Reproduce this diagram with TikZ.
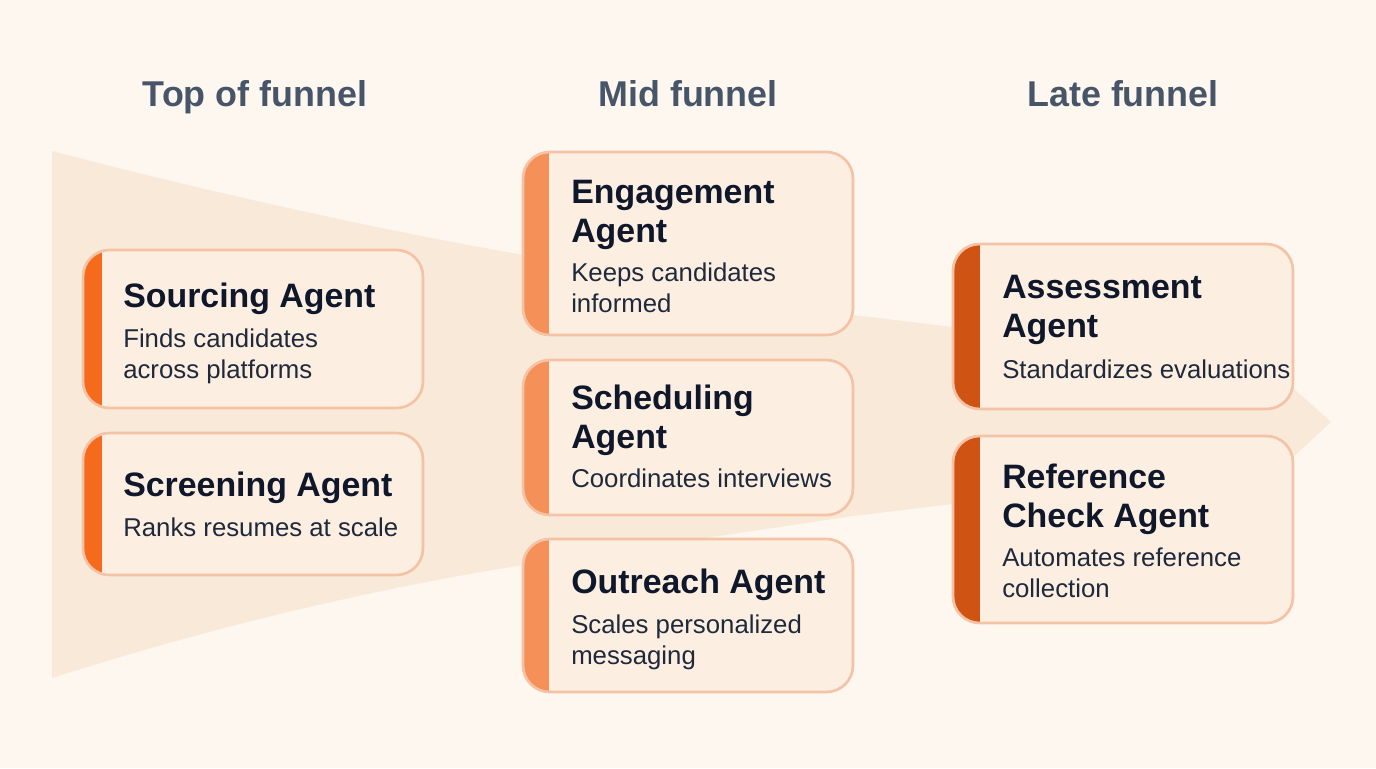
\documentclass[tikz,border=0pt]{standalone}
\usepackage{fontspec}
\setmainfont{Liberation Sans}
\definecolor{bg}{HTML}{FDF7EF}
\definecolor{fun}{HTML}{F8E9D9}
\definecolor{card}{HTML}{FDEEE2}
\definecolor{edge}{HTML}{F4C3A6}
\definecolor{ink}{HTML}{0F172A}
\definecolor{sub}{HTML}{1E293B}
\definecolor{headc}{HTML}{475569}
\definecolor{ba}{HTML}{F56B1B}
\definecolor{bb}{HTML}{F49058}
\definecolor{bc}{HTML}{CF5413}
\newcommand{\px}{0.0264583cm}
\tikzset{x=\px,y=-\px,
 headtxt/.style={font=\fontsize{27}{27}\selectfont\bfseries,text=headc,anchor=base,inner sep=0},
 titletxt/.style={font=\fontsize{25.5}{29}\selectfont\bfseries,text=ink,anchor=north west,inner sep=0,align=left},
 subtxt/.style={font=\fontsize{19.4}{22.8}\selectfont,text=sub,anchor=north west,inner sep=0,align=left}}
\begin{document}
\begin{tikzpicture}
\useasboundingbox (0,0) rectangle (1376,768);
\fill[bg] (0,0) rectangle (1376,768);
\fill[fun] (52,151) .. controls (209,192) and (366,227) .. (523,255) -- (853,315) -- (953,327) -- (1293,388) -- (1331,422) -- (1293,457) -- (953,504) -- (853,516) -- (523,565) .. controls (366,590) and (209,628) .. (52,678) -- cycle;
\node[headtxt] (h1) at (255,106) {Top of funnel};
\node[headtxt] (h2) at (688,106) {Mid funnel};
\node[headtxt] (h3) at (1123,106) {Late funnel};
\newcommand{\card}[6]{%
 \begin{scope}
 \clip[rounded corners=20] (#2,#3) rectangle (#4,#5);
 \fill[card] (#2,#3) rectangle (#4,#5);
 \fill[#6] (#2,#3) rectangle ++(#1,#5-#3);
 \end{scope}
 \draw[edge,line width=2pt,rounded corners=20] (#2,#3) rectangle (#4,#5);
}
\card{19}{83}{250}{423}{408}{ba}
\card{19}{83}{433}{423}{575}{ba}
\card{26}{523}{152}{853}{335}{bb}
\card{26}{523}{360}{853}{515}{bb}
\card{26}{523}{539}{853}{692}{bb}
\card{27}{953}{244}{1293}{409}{bc}
\card{27}{953}{436}{1293}{623}{bc}
\node[titletxt] (t1) at (123,283) {Sourcing Agent};
\node[subtxt] (s1) at (123,329) {Finds candidates\\across platforms};
\node[titletxt] (t2) at (123,472) {Screening Agent};
\node[subtxt] (s2) at (123,518) {Ranks resumes at scale};
\node[titletxt] (t3) at (571,180) {Engagement\\Agent};
\node[subtxt] (s3) at (571,263) {Keeps candidates\\informed};
\node[titletxt] (t4) at (571,385) {Scheduling\\Agent};
\node[subtxt] (s4) at (571,469) {Coordinates interviews};
\node[titletxt] (t5) at (571,569) {Outreach Agent};
\node[subtxt] (s5) at (571,615) {Scales personalized\\messaging};
\node[titletxt] (t6) at (1002,275) {Assessment\\Agent};
\node[subtxt] (s6) at (1002,360) {Standardizes evaluations};
\node[titletxt] (t7) at (1002,464) {Reference\\Check Agent};
\node[subtxt] (s7) at (1002,548) {Automates reference\\collection};
\end{tikzpicture}
\end{document}
